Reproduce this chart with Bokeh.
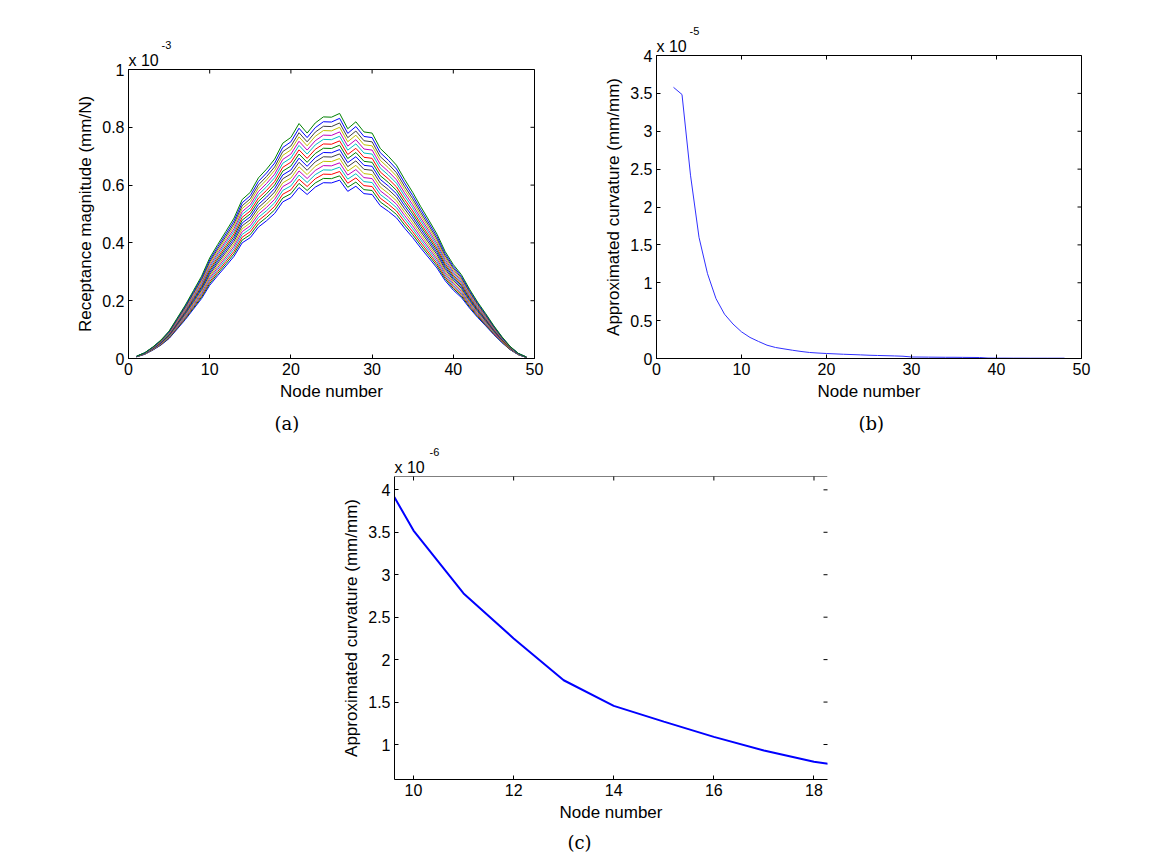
import numpy as np
from bokeh.plotting import figure
from bokeh.models import FixedTicker, Range1d, Spacer, Title, Span
from bokeh.layouts import row, column
from bokeh.embed import file_html
from bokeh.resources import INLINE

FONT = "Liberation Sans"
SERIF = "DejaVu Serif"

# ---------------- data ----------------
# (a) receptance magnitude, x 1e-3 mm/N, nodes 1..49 (top curve)
nodes_a = list(range(1, 50))
top_curve = [0.008, 0.02, 0.04, 0.064, 0.095, 0.14, 0.185, 0.235, 0.285, 0.348,
             0.395, 0.44, 0.486, 0.55, 0.575, 0.625, 0.655, 0.69, 0.745, 0.765,
             0.813, 0.78, 0.815, 0.836, 0.835, 0.848, 0.795, 0.819, 0.784, 0.78,
             0.727, 0.70, 0.669, 0.62, 0.575, 0.525, 0.478, 0.43, 0.37, 0.325,
             0.29, 0.24, 0.195, 0.155, 0.113, 0.075, 0.042, 0.018, 0.005]
# peak (node 26) level of each of the 16 curves, bottom to top
peak_levels = [0.617, 0.632, 0.647, 0.662, 0.677, 0.692, 0.708, 0.723,
               0.738, 0.753, 0.769, 0.784, 0.800, 0.815, 0.831, 0.848]
line_colors = ["#0000ff", "#008000", "#ff0000", "#00bfbf", "#bf00bf", "#bfbf00", "#404040"]

# (b)/(c) approximated curvature, x 1e-6 mm/mm, nodes 2..48
nodes_b = list(range(2, 49))
curv_e6 = [35.8, 34.85, 24.2, 16.0, 11.2, 7.9, 5.85, 4.55, 3.52, 2.78,
           2.25, 1.757, 1.455, 1.27, 1.09, 0.93, 0.796, 0.72, 0.66, 0.61,
           0.56, 0.52, 0.48, 0.43, 0.40, 0.37, 0.34, 0.30, 0.20, 0.19,
           0.18, 0.17, 0.16, 0.16, 0.15, 0.14, 0.13, 0.06, 0.05, 0.05,
           0.045, 0.045, 0.04, 0.04, 0.04, 0.04, 0.04]

xticks_ab = [0, 10, 20, 30, 40, 50]
yticks_a = [0, 0.2, 0.4, 0.6, 0.8, 1]
yticks_b = [0, 0.5, 1, 1.5, 2, 2.5, 3, 3.5, 4]
xticks_c = [10, 12, 14, 16, 18]
yticks_c = [1, 1.5, 2, 2.5, 3, 3.5, 4]

TITLE_PROPS = Title.properties()


def fmt(v):
    return str(int(v)) if float(v).is_integer() else str(v)


def style_axis(ax, ticks):
    ax.ticker = FixedTicker(ticks=ticks)
    ax.major_label_overrides = {t: fmt(t) for t in ticks}
    ax.major_tick_in = 4
    ax.major_tick_out = 0
    ax.minor_tick_line_color = None
    ax.axis_line_color = "black"
    ax.major_tick_line_color = "black"
    ax.major_label_text_font = FONT
    ax.major_label_text_font_size = "16px"
    ax.major_label_text_color = "black"
    ax.major_label_standoff = 4
    ax.axis_label_text_font = FONT
    ax.axis_label_text_font_size = "17px"
    ax.axis_label_text_font_style = "normal"
    ax.axis_label_text_color = "black"
    ax.axis_label_standoff = 4


def make_fig(fw, fh, xr, yr, bl, br, bt, bb, caption, cap_off, cap_standoff, outline=True):
    p = figure(frame_width=fw, frame_height=fh, x_range=Range1d(*xr), y_range=Range1d(*yr),
               min_border_left=bl, min_border_right=br, min_border_top=bt, min_border_bottom=bb,
               output_backend="svg", toolbar_location=None, title=caption, title_location="below")
    p.grid.visible = False
    p.outline_line_color = "black" if outline else None
    p.background_fill_color = "white"
    p.border_fill_color = "white"
    p.title.text_font = SERIF
    p.title.text_font_size = "18px"
    p.title.text_font_style = "normal"
    p.title.text_color = "black"
    p.title.align = "left"
    p.title.offset = cap_off
    if "standoff" in TITLE_PROPS:
        p.title.standoff = cap_standoff
    return p


def add_box(p, xr, yr, xt, yt, xlabel, ylabel, top_spine=False):
    style_axis(p.xaxis[0], xt)
    style_axis(p.yaxis[0], yt)
    p.xaxis[0].axis_label = xlabel
    p.yaxis[0].axis_label = ylabel
    # inward ticks on the top and right edges (half of each dash is clipped by the frame)
    p.scatter(xt, [yr[1]] * len(xt), marker="dash", angle=np.pi / 2, size=8,
              line_color="black", line_width=1)
    p.scatter([xr[1]] * len(yt), yt, marker="dash", size=8, line_color="black", line_width=1)
    if top_spine:
        p.add_layout(Span(location=yr[1], dimension="width", line_color="black", line_width=1))


def add_exp(p, exp_text, sup_off):
    t1 = Title(text="x 10", align="left", offset=0, text_font=FONT, text_font_size="16px",
               text_font_style="normal", text_color="black")
    t2 = Title(text=exp_text, align="left", offset=sup_off, text_font=FONT, text_font_size="11px",
               text_font_style="normal", text_color="black")
    if "text_line_height" in TITLE_PROPS:
        t1.text_line_height = 0.6
    if "standoff" in TITLE_PROPS:
        t1.standoff = 2
        t2.standoff = 0
    p.add_layout(t1, "above")
    p.add_layout(t2, "above")


# ---------------- panel (a) ----------------
xr_a, yr_a = (0, 50), (0, 1)
pa = make_fig(406, 289, xr_a, yr_a, 128, 26, 55, 82, "(a)", 146, 14)
top_arr = np.array(top_curve)
for i, lvl in enumerate(peak_levels):
    pa.line(nodes_a, top_arr * lvl / top_curve[25], line_color=line_colors[i % 7], line_width=1)
add_box(pa, xr_a, yr_a, xticks_ab, yticks_a, "Node number", "Receptance magnitude (mm/N)")
add_exp(pa, "-3", 33)

# ---------------- panel (b) ----------------
xr_b, yr_b = (0, 50), (0, 4)
pb = make_fig(425, 303, xr_b, yr_b, 96, 40, 55, 82, "(b)", 202, 14)
pb.line(nodes_b, np.array(curv_e6) / 10.0, line_color="#3030ff", line_width=1)
add_box(pb, xr_b, yr_b, xticks_ab, yticks_b, "Node number", "Approximated curvature (mm/mm)")
add_exp(pb, "-5", 33)

# ---------------- panel (c) ----------------
xr_c, yr_c = (9.62, 18.27), (0.588, 4.157)
pc = make_fig(433, 303, xr_c, yr_c, 104, 30, 36, 75, "(c)", 173, 10, outline=False)
pc.line(nodes_b, curv_e6, line_color="#0000ff", line_width=2)
add_box(pc, xr_c, yr_c, xticks_c, yticks_c, "Node number", "Approximated curvature (mm/mm)",
        top_spine=True)
add_exp(pc, "-6", 35)

layout = column(row(column(Spacer(width=10, height=14), pa), pb),
                row(Spacer(width=290, height=10), pc))

open("out.html", "w").write(file_html(layout, INLINE))
